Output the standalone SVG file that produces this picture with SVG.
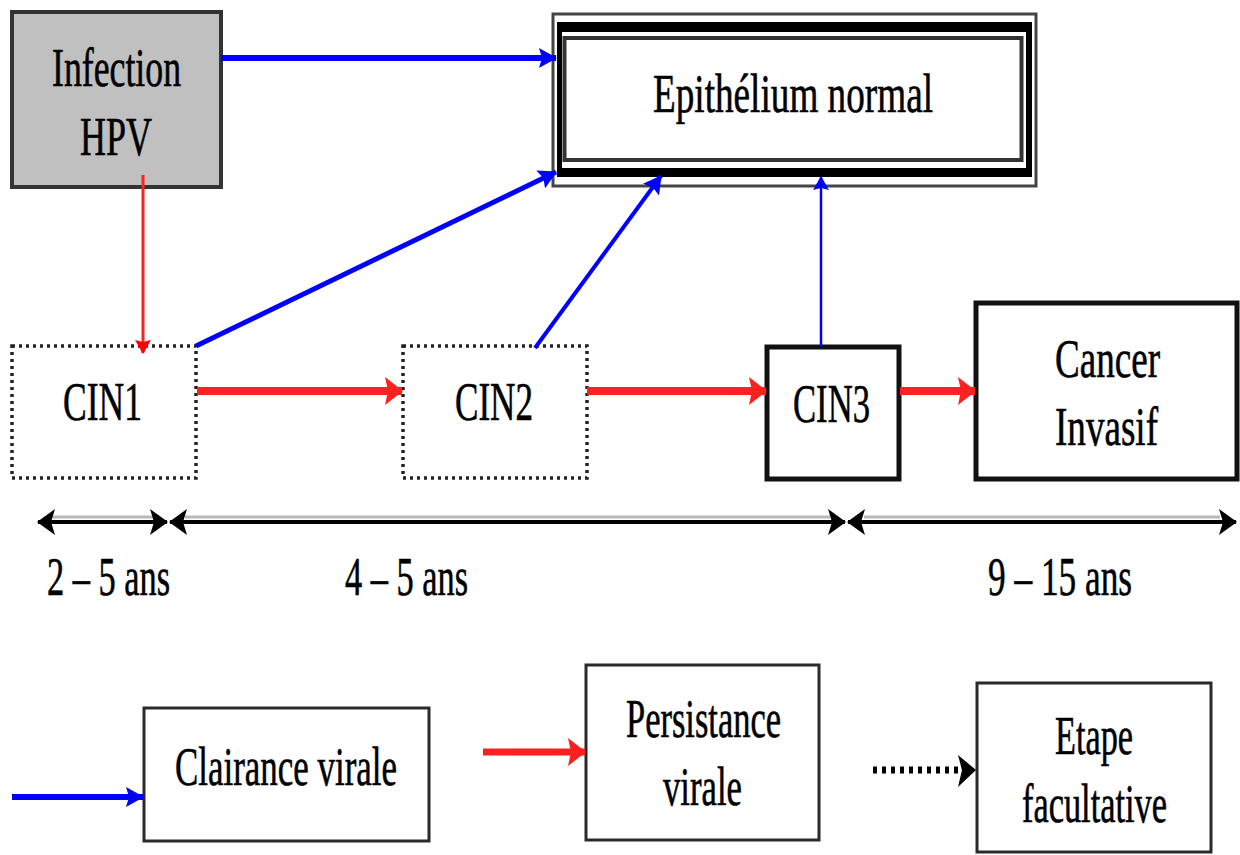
<svg xmlns="http://www.w3.org/2000/svg" width="1240" height="855" viewBox="0 0 1240 855">
  <style>
    .lbl { font-family: "Liberation Serif", "Times New Roman", serif; font-size: 54px; fill: #000; stroke: #000; stroke-width: 0.6; }
    .box { fill: #fff; stroke: #2a2a2a; stroke-width: 3; }
    .dotted { fill: #fff; stroke: #222; stroke-width: 3.5; stroke-dasharray: 3 4; }
    .heavy { fill: #fff; stroke: #111; stroke-width: 5; }
    .blue { stroke: #0000ff; fill: none; }
    .red { stroke: #ff2020; fill: none; }
    .span { stroke: #000; stroke-width: 4; fill: none; }
    .shade { stroke: #b8b8b8; stroke-width: 3; fill: none; }
  </style>
  <defs>
    <marker id="headBlue" markerUnits="userSpaceOnUse" markerWidth="18" markerHeight="20" refX="17" refY="10" orient="auto">
      <path d="M0,0 L18,10 L0,20 L3,10 z" fill="#0000ff"/>
    </marker>
    <marker id="headBlueSmall" markerUnits="userSpaceOnUse" markerWidth="14" markerHeight="16" refX="13" refY="8" orient="auto">
      <path d="M0,0 L14,8 L0,16 L2,8 z" fill="#0000ff"/>
    </marker>
    <marker id="headRed" markerUnits="userSpaceOnUse" markerWidth="18" markerHeight="28" refX="17" refY="14" orient="auto">
      <path d="M0,0 L18,14 L0,28 L3,14 z" fill="#ff2020"/>
    </marker>
    <marker id="headRedSmall" markerUnits="userSpaceOnUse" markerWidth="14" markerHeight="16" refX="13" refY="8" orient="auto">
      <path d="M0,0 L14,8 L0,16 L2,8 z" fill="#ff0000"/>
    </marker>
    <marker id="headBlack" markerUnits="userSpaceOnUse" markerWidth="18" markerHeight="26" refX="17" refY="13" orient="auto-start-reverse">
      <path d="M0,0 L18,13 L0,26 L4,13 z" fill="#000"/>
    </marker>
  </defs>

  <!-- nodes -->
  <g id="infection-hpv">
    <rect x="12" y="12" width="209" height="175" fill="#c0c0c0" stroke="#333" stroke-width="4"/>
    <text class="lbl" x="52" y="86" textLength="129" lengthAdjust="spacingAndGlyphs">Infection</text>
    <text class="lbl" x="80" y="155" textLength="72" lengthAdjust="spacingAndGlyphs">HPV</text>
  </g>

  <g id="epithelium-normal">
    <rect x="553" y="14" width="483" height="172" fill="#fff" stroke="#444" stroke-width="3"/>
    <path d="M557,22 H1032 V177 H557 z M562,32 V168 H1026 V32 z" fill="#000" fill-rule="evenodd"/>
    <rect x="564.5" y="38" width="457" height="122" fill="#fff" stroke="#333" stroke-width="4"/>
    <text class="lbl" x="653" y="112" textLength="280" lengthAdjust="spacingAndGlyphs">Epithélium normal</text>
  </g>

  <g id="cin1">
    <rect class="dotted" x="12" y="346" width="184" height="132"/>
    <text class="lbl" x="63" y="420" textLength="79" lengthAdjust="spacingAndGlyphs">CIN1</text>
  </g>

  <g id="cin2">
    <rect class="dotted" x="403" y="346" width="184" height="132"/>
    <text class="lbl" x="455" y="420" textLength="78" lengthAdjust="spacingAndGlyphs">CIN2</text>
  </g>

  <g id="cin3">
    <rect class="heavy" x="767" y="347" width="132" height="132"/>
    <text class="lbl" x="793" y="422" textLength="77" lengthAdjust="spacingAndGlyphs">CIN3</text>
  </g>

  <g id="cancer-invasif">
    <rect class="heavy" x="976" y="303" width="261" height="176"/>
    <text class="lbl" x="1055" y="377" textLength="105" lengthAdjust="spacingAndGlyphs">Cancer</text>
    <text class="lbl" x="1055" y="445" textLength="103" lengthAdjust="spacingAndGlyphs">Invasif</text>
  </g>

  <!-- durations -->
  <g id="timeline">
    <line class="shade" x1="52" y1="517" x2="155" y2="517"/>
    <line class="shade" x1="185" y1="517" x2="830" y2="517"/>
    <line class="shade" x1="864" y1="517" x2="1220" y2="517"/>
    <line class="span" x1="38" y1="522" x2="167" y2="522" marker-start="url(#headBlack)" marker-end="url(#headBlack)"/>
    <line class="span" x1="170" y1="522" x2="845" y2="522" marker-start="url(#headBlack)" marker-end="url(#headBlack)"/>
    <line class="span" x1="848" y1="522" x2="1236" y2="522" marker-start="url(#headBlack)" marker-end="url(#headBlack)"/>
    <text class="lbl" x="47" y="595" textLength="123" lengthAdjust="spacingAndGlyphs">2 – 5 ans</text>
    <text class="lbl" x="345" y="595" textLength="123" lengthAdjust="spacingAndGlyphs">4 – 5 ans</text>
    <text class="lbl" x="988" y="595" textLength="144" lengthAdjust="spacingAndGlyphs">9 – 15 ans</text>
  </g>

  <!-- legend -->
  <g id="legend-clairance">
    <rect class="box" x="144" y="708" width="285" height="133"/>
    <text class="lbl" x="175" y="785" textLength="222" lengthAdjust="spacingAndGlyphs">Clairance virale</text>
  </g>
  <g id="legend-persistance">
    <rect class="box" x="586" y="665" width="233" height="175"/>
    <text class="lbl" x="626" y="737" textLength="155" lengthAdjust="spacingAndGlyphs">Persistance</text>
    <text class="lbl" x="663" y="805" textLength="79" lengthAdjust="spacingAndGlyphs">virale</text>
  </g>
  <g id="legend-facultative">
    <rect class="box" x="977" y="683" width="234" height="169"/>
    <text class="lbl" x="1055" y="754" textLength="78" lengthAdjust="spacingAndGlyphs">Etape</text>
    <text class="lbl" x="1022" y="822" textLength="145" lengthAdjust="spacingAndGlyphs">facultative</text>
  </g>

  <!-- connectors -->
  <g id="connectors">
    <line class="blue" stroke-width="6" x1="221" y1="58" x2="556" y2="58" marker-end="url(#headBlue)"/>
    <line class="blue" stroke-width="5" x1="196" y1="346" x2="556" y2="172" marker-end="url(#headBlue)"/>
    <line class="blue" stroke-width="4" x1="535" y1="348" x2="661" y2="176" marker-end="url(#headBlue)"/>
    <line class="blue" stroke-width="2.5" x1="821" y1="347" x2="821" y2="177" marker-end="url(#headBlueSmall)"/>

    <line class="red" stroke="#ff0000" stroke-width="3" x1="143" y1="175" x2="143" y2="353" marker-end="url(#headRedSmall)"/>
    <line class="red" stroke-width="8" x1="197" y1="391" x2="402" y2="391" marker-end="url(#headRed)"/>
    <line class="red" stroke-width="8" x1="587" y1="391" x2="766" y2="391" marker-end="url(#headRed)"/>
    <line class="red" stroke-width="8" x1="900" y1="391" x2="975" y2="391" marker-end="url(#headRed)"/>

    <line class="blue" stroke-width="6" x1="12" y1="797" x2="143" y2="797" marker-end="url(#headBlue)"/>
    <line class="red" stroke-width="7" x1="483" y1="752" x2="585" y2="752" marker-end="url(#headRed)"/>
    <line stroke="#000" stroke-width="7" stroke-dasharray="4 5" x1="873" y1="770" x2="962" y2="770"/>
    <path d="M958,755 L976,770 L958,787 L962,770 z" fill="#000"/>
  </g>
</svg>
